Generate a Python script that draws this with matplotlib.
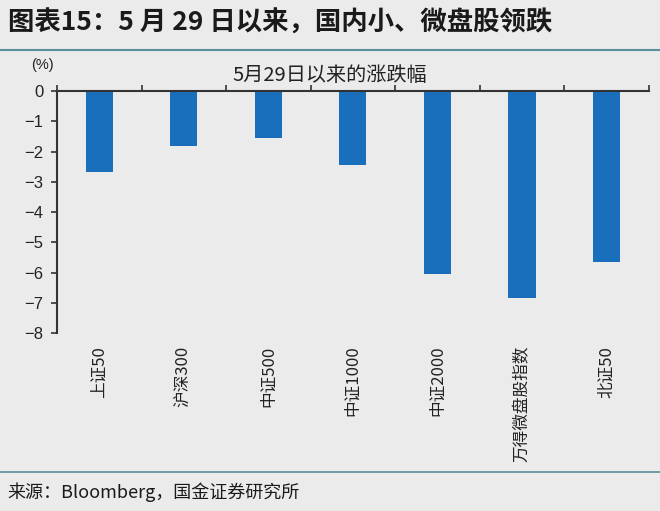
import numpy as np
import matplotlib.pyplot as plt

plt.rcParams['font.family'] = ['Noto Sans CJK SC', 'DejaVu Sans']
plt.rcParams['axes.unicode_minus'] = True

names = ['上证50', '沪深300', '中证500', '中证1000', '中证2000', '万得微盘股指数', '北证50']
change = [-2.68, -1.82, -1.55, -2.45, -6.05, -6.84, -5.65]
yticks = [0, -1, -2, -3, -4, -5, -6, -7, -8]

bg = '#ebebeb'
bar_color = '#1a6fbd'
axis_color = '#333333'

fig = plt.figure(figsize=(6.6, 5.11), dpi=100, facecolor=bg)
ax = fig.add_axes([0.0864, 0.348, 0.8966, 0.474], facecolor=bg)

x = np.arange(len(names))
ax.bar(x, change, width=0.32, color=bar_color, zorder=2)

ax.set_xlim(-0.5, len(names) - 0.5)
ax.set_ylim(-8, 0)

# y axis
ax.set_yticks(yticks)
ax.set_yticklabels(['0' if v == 0 else '\u2212%d' % -v for v in yticks],
                   family=['Liberation Sans', 'DejaVu Sans'], fontsize=12)
ax.tick_params(axis='y', direction='out', length=4, width=1.2, color=axis_color,
               labelcolor='#222222', pad=6)

# x labels at the bottom, no tick marks
ax.set_xticks(x)
ax.set_xticklabels(names, rotation=90, va='top', fontsize=12)
ax.tick_params(axis='x', which='major', length=0, pad=9, labelcolor='#222222')

# boundary ticks on the zero line, pointing up
ax.set_xticks(np.arange(-0.5, len(names), 1), minor=True)
ax.tick_params(axis='x', which='minor', top=True, bottom=False, direction='out',
               length=4, width=1.2, color=axis_color)

for s in ['right', 'bottom']:
    ax.spines[s].set_visible(False)
ax.spines['top'].set_color(axis_color)
ax.spines['top'].set_linewidth(1.5)
ax.spines['left'].set_color(axis_color)
ax.spines['left'].set_linewidth(1.5)

fig.text(0.064, 0.873, '(%)', fontsize=10.5, ha='center', va='center',
         family=['Liberation Sans', 'DejaVu Sans'], color='#222222')
fig.text(0.5, 0.853, '5月29日以来的涨跌幅', fontsize=14.5, ha='center', va='center',
         color='#222222')

# header and footer
fig.text(0.012, 0.955, '图表15：5 月 29 日以来，国内小、微盘股领跌', fontsize=19,
         fontweight='bold', ha='left', va='center', color='#1a1a1a')
fig.add_artist(plt.Line2D([0, 1], [0.902, 0.902], color='#5a8f9c', lw=1.5))
fig.add_artist(plt.Line2D([0, 1], [0.076, 0.076], color='#5a8f9c', lw=1.2))
fig.text(0.012, 0.036, '来源：Bloomberg，国金证券研究所', fontsize=13,
         ha='left', va='center', color='#1a1a1a')

fig.savefig('out.png', dpi=100, facecolor=bg)
